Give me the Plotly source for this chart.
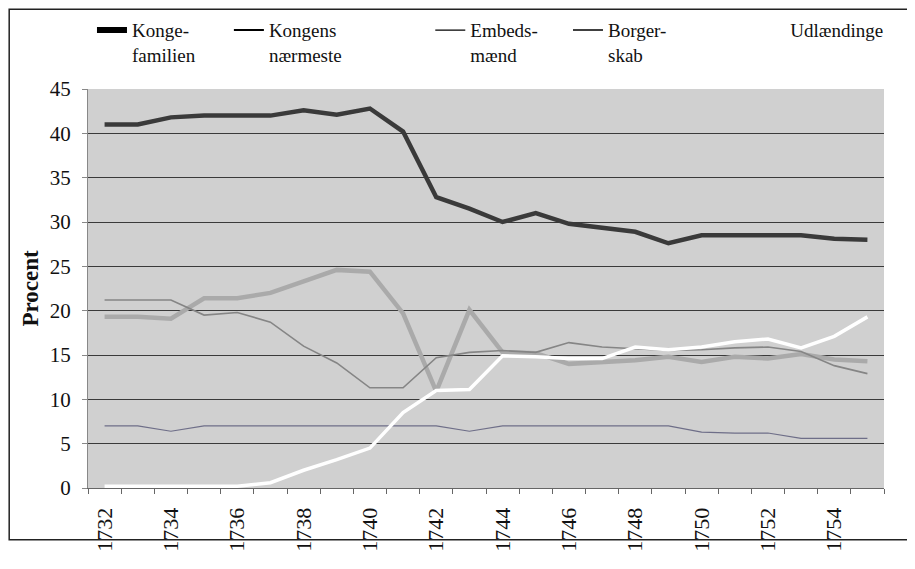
import plotly.graph_objects as go

years = list(range(1732, 1756))

kongefamilien = [41.0, 41.0, 41.8, 42.0, 42.0, 42.0, 42.6, 42.1, 42.8, 40.2, 32.8, 31.5,
                 30.0, 31.0, 29.8, 29.4, 28.9, 27.6, 28.5, 28.5, 28.5, 28.5, 28.1, 28.0]
kongens_naermeste = [19.3, 19.3, 19.1, 21.4, 21.4, 22.0, 23.3, 24.6, 24.4, 19.7, 10.9, 20.1,
                     15.3, 15.2, 14.0, 14.2, 14.4, 14.8, 14.2, 14.8, 14.6, 15.1, 14.5, 14.3]
embedsmaend = [21.2, 21.2, 21.2, 19.5, 19.8, 18.7, 16.0, 14.1, 11.3, 11.3, 14.7, 15.3,
               15.5, 15.3, 16.4, 15.9, 15.7, 15.5, 15.6, 15.8, 15.9, 15.4, 13.8, 12.9]
borgerskab = [7.0, 7.0, 6.4, 7.0, 7.0, 7.0, 7.0, 7.0, 7.0, 7.0, 7.0, 6.4,
              7.0, 7.0, 7.0, 7.0, 7.0, 7.0, 6.3, 6.2, 6.2, 5.6, 5.6, 5.6]
udlaendinge = [0.2, 0.2, 0.2, 0.2, 0.2, 0.6, 2.0, 3.2, 4.5, 8.5, 11.0, 11.1,
               14.9, 14.8, 14.6, 14.6, 15.9, 15.6, 15.9, 16.5, 16.8, 15.8, 17.1, 19.3]

series = [
    ("Kongefamilien", kongefamilien, "#3a3a3a", 4.5),
    ("Kongens nærmeste", kongens_naermeste, "#aaaaaa", 4.5),
    ("Embedsmænd", embedsmaend, "#858585", 1.6),
    ("Borgerskab", borgerskab, "#6e6e88", 1.2),
    ("Udlændinge", udlaendinge, "#ffffff", 3.5),
]

# legend look: all black lines in the print, label text on two lines
legend_names = ["Konge-<br>familien", "Kongens<br>nærmeste", "Embeds-<br>mænd",
                "Borger-<br>skab", "Udlændinge"]
legend_styles = [("#000000", 6), ("#000000", 2), ("#000000", 1.3), ("#000000", 1.6), ("#ffffff", 1)]
legend_x = [0.005, 0.177, 0.430, 0.603, 0.832]

fig = go.Figure()
for name, vals, col, w in series:
    fig.add_trace(go.Scatter(x=years, y=vals, mode="lines", name=name,
                             line=dict(color=col, width=w), showlegend=False))

for i, (lbl, (c, w)) in enumerate(zip(legend_names, legend_styles)):
    fig.add_trace(go.Scatter(x=[None], y=[None], mode="lines", name=lbl,
                             line=dict(color=c, width=w),
                             legend="legend" if i == 0 else f"legend{i+1}"))

font = "Liberation Serif, Times New Roman, serif"
legends = {}
for i, lx in enumerate(legend_x):
    key = "legend" if i == 0 else f"legend{i+1}"
    legends[key] = dict(x=lx, y=1.195, xanchor="left", yanchor="top",
                        bgcolor="rgba(0,0,0,0)", valign="top",
                        font=dict(family=font, size=19, color="#111"))

# page body has an 8px margin, so the figure is sized to the remaining window
fig.update_layout(
    width=907, height=561,
    margin=dict(l=80, r=31, t=81, b=81, autoexpand=False),
    paper_bgcolor="white",
    plot_bgcolor="#d0d0d0",
    font=dict(family=font, size=20, color="#111"),
    shapes=[dict(type="rect", xref="paper", yref="paper",
                 x0=-0.099, x1=1.06, y0=-0.13, y1=1.2,
                 line=dict(color="#222", width=1.5))],
    **legends,
)

fig.update_xaxes(range=[1731.5, 1755.5], tickvals=years[::2], ticktext=[str(y) for y in years[::2]],
                 tickangle=-90, ticks="", showgrid=False, zeroline=False,
                 showline=True, linecolor="#666", linewidth=1,
                 ticklabelstandoff=10,
                 minor=dict(tick0=1731.5, dtick=1, ticks="outside", ticklen=5,
                            tickcolor="#666", showgrid=False),
                 tickfont=dict(family=font, size=22, color="#111"))
fig.update_yaxes(range=[0, 45], dtick=5, showgrid=True, gridcolor="#3a3a3a", gridwidth=1,
                 zeroline=False, showline=True, linecolor="#888", linewidth=1,
                 ticks="outside", ticklen=5, tickcolor="#888",
                 ticklabelstandoff=7,
                 title=dict(text="<b>Procent</b>", font=dict(family=font, size=23, color="#111"),
                            standoff=4),
                 tickfont=dict(family=font, size=21, color="#111"))

fig.write_html("out.html")
